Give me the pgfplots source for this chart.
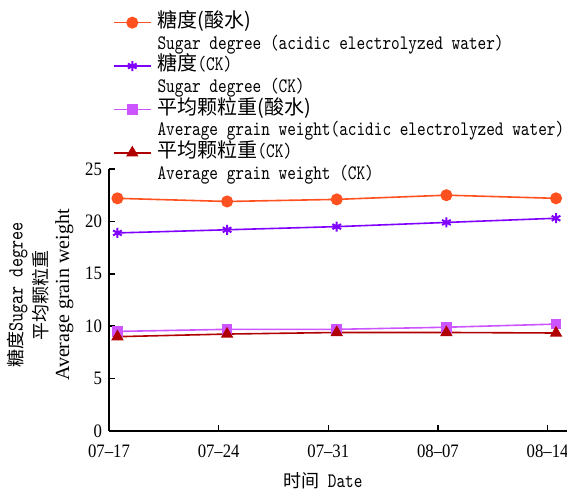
\documentclass[border=0pt]{standalone}
\usepackage{fontspec}
\usepackage{pgfplots}
\pgfplotsset{compat=1.18}
\newfontfamily\cjk{Noto Sans CJK SC}
\newfontfamily\serif{Liberation Serif}
\newfontfamily\mono[FakeStretch=0.8]{Latin Modern Mono}
\newfontfamily\tickfont[FakeStretch=0.88]{Liberation Serif}
\definecolor{cSA}{RGB}{255,80,32}
\definecolor{cSC}{RGB}{128,0,255}
\definecolor{cGA}{RGB}{204,85,255}
\definecolor{cGC}{RGB}{176,0,0}
\begin{document}
\begin{tikzpicture}
\begin{axis}[
  at={(54.5pt,29.5pt)}, anchor=south west,
  scale only axis, width=229pt, height=131pt,
  xmin=-0.077, xmax=4.10, ymin=0, ymax=25,
  axis x line=bottom, axis y line=left,
  axis line style={-, line width=1pt},
  xtick={-0.077,0.923,1.923,2.923,3.923},
  xticklabels={07–17,07–24,07–31,08–07,08–14},
  ytick={0,5,10,15,20,25},
  tick align=inside, major tick length=3pt,
  tick style={black, line width=0.8pt},
  tick label style={font=\tickfont\fontsize{9.5}{10}\selectfont},
  xticklabel style={yshift=-3.5pt},
  /pgf/number format/assume math mode=true,
  clip=false,
  ylabel={{\cjk\fontsize{9}{11}\selectfont 糖度}{\mono\fontsize{10.8}{11}\selectfont Sugar degree}\\[1.2pt]{\cjk\fontsize{9}{11}\selectfont 平均颗粒重}\\Average grain weight},
  ylabel style={at={(axis description cs:-0.1496,0.519)}, anchor=center, align=center, font=\serif\fontsize{10}{11}\selectfont},
  xlabel={{\cjk\fontsize{9}{10}\selectfont 时间} Date},
  xlabel style={at={(axis description cs:0.467,-0.19)}, anchor=center, font=\mono\fontsize{10.3}{10}\selectfont},
  legend style={at={(0.0087,1.60)}, anchor=north west, draw=none, fill=none,
    inner sep=0pt, outer sep=0pt, row sep=0pt, column sep=3pt,
    nodes={inner sep=0pt, text height=7.8pt, text depth=3.05pt},
    font=\mono\fontsize{10.3}{10}\selectfont},
  legend cell align=left,
  legend image code/.code={\draw[mark repeat=2,mark phase=2,#1] plot coordinates {(0pt,0pt) (9.25pt,0pt) (18.5pt,0pt)};},
]
\addplot[color=cSA, line width=0.8pt, mark=*, mark size=2.6pt] coordinates {(0,22.2)(1,21.9)(2,22.1)(3,22.5)(4,22.2)};
\addlegendentry{{\cjk\fontsize{10}{10}\selectfont 糖度(酸水)}}
\addlegendimage{empty legend}
\addlegendentry{Sugar degree (acidic electrolyzed water)}
\addplot[color=cSC, line width=0.8pt, mark=asterisk, mark size=2.5pt, mark options={line width=1pt}] coordinates {(0,18.9)(1,19.2)(2,19.5)(3,19.9)(4,20.3)};
\addlegendentry{{\cjk\fontsize{10}{10}\selectfont 糖度}(CK)}
\addlegendimage{empty legend}
\addlegendentry{Sugar degree (CK)}
\addplot[color=cGA, line width=0.8pt, mark=square*, mark size=2.3pt] coordinates {(0,9.5)(1,9.7)(2,9.7)(3,9.9)(4,10.2)};
\addlegendentry{{\cjk\fontsize{10}{10}\selectfont 平均颗粒重(酸水)}}
\addlegendimage{empty legend}
\addlegendentry{Average grain weight(acidic electrolyzed water)}
\addplot[color=cGC, line width=0.8pt, mark=triangle*, mark size=2.8pt] coordinates {(0,9.0)(1,9.25)(2,9.4)(3,9.4)(4,9.35)};
\addlegendentry{{\cjk\fontsize{10}{10}\selectfont 平均颗粒重}(CK)}
\addlegendimage{empty legend}
\addlegendentry{Average grain weight (CK)}
\end{axis}
\pgfresetboundingbox
\useasboundingbox (0,0) rectangle (283.5pt,245pt);
\end{tikzpicture}
\end{document}
